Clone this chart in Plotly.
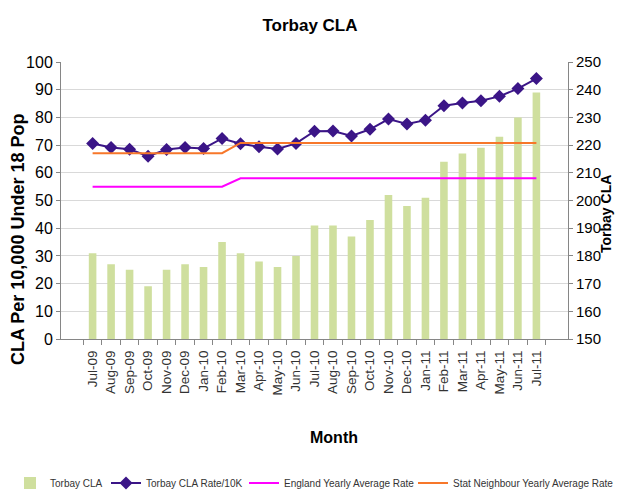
import plotly.graph_objects as go

months = ["Jul-09", "Aug-09", "Sep-09", "Oct-09", "Nov-09", "Dec-09", "Jan-10", "Feb-10",
          "Mar-10", "Apr-10", "May-10", "Jun-10", "Jul-10", "Aug-10", "Sep-10", "Oct-10",
          "Nov-10", "Dec-10", "Jan-11", "Feb-11", "Mar-11", "Apr-11", "May-11", "Jun-11", "Jul-11"]
torbay_cla = [181, 177, 175, 169, 175, 177, 176, 185, 181, 178, 176, 180, 191,
              191, 187, 193, 202, 198, 201, 214, 217, 219, 223, 230, 239]
torbay_rate = [70.6, 69.1, 68.5, 66.0, 68.4, 69.1, 68.8, 72.4, 70.5, 69.4, 68.6, 70.6, 75.0,
               75.1, 73.3, 75.7, 79.4, 77.6, 79.0, 84.2, 85.2, 86.0, 87.6, 90.4, 94.0]
england_rate = [55] * 8 + [58] * 17
stat_neighbour_rate = [67.1] * 8 + [70.8] * 17

FONT = "Liberation Sans, Arial, sans-serif"

fig = go.Figure()
fig.add_trace(go.Bar(x=months, y=torbay_cla, name="Torbay CLA", marker_color="#CFDF9E",
                     marker_line_width=0, yaxis="y", legend="legend"))
fig.add_trace(go.Scatter(x=months, y=torbay_rate, name="Torbay CLA Rate/10K", mode="lines+markers",
                         line=dict(color="#3B1587", width=2),
                         marker=dict(symbol="diamond", size=10, color="#3B1587"), yaxis="y2",
                         legend="legend2"))
fig.add_trace(go.Scatter(x=months, y=england_rate, name="England Yearly Average Rate", mode="lines",
                         line=dict(color="#FF00FF", width=2), yaxis="y2", legend="legend3"))
fig.add_trace(go.Scatter(x=months, y=stat_neighbour_rate, name="Stat Neighbour Yearly Average Rate",
                         mode="lines", line=dict(color="#F7772A", width=2), yaxis="y2",
                         legend="legend4"))

L, R, T, B = 61, 49, 62, 151
W, H = 617, 490
pw, ph = W - L - R, H - T - B

def px_x(x):
    return (x - L) / pw

def px_y(y):
    return (H - B - y) / ph

def legend_at(x_px):
    return dict(orientation="h", xref="paper", yref="paper", x=px_x(x_px), xanchor="left",
                y=px_y(483), yanchor="middle", font=dict(size=10, color="#333", family=FONT),
                itemwidth=30, bgcolor="rgba(0,0,0,0)")

fig.update_layout(
    width=W, height=H,
    paper_bgcolor="white", plot_bgcolor="white",
    margin=dict(l=L, r=R, t=T, b=B, autoexpand=False),
    font=dict(family=FONT, color="#000"),
    title=dict(text="<b>Torbay CLA</b>", x=310 / W, xanchor="center", y=1 - 25 / H, yanchor="middle",
               font=dict(size=17, family=FONT, color="#000")),
    bargap=0.59,
    showlegend=True,
    legend=legend_at(10),
    legend2=legend_at(106),
    legend3=legend_at(244),
    legend4=legend_at(413),
    xaxis=dict(type="category", tickangle=-90, tickfont=dict(size=13.5, color="#333", family=FONT),
               showline=True, linecolor="#868686", ticks="outside", tickson="boundaries",
               ticklen=5, tickcolor="#868686", showgrid=False, automargin=False,
               ticklabelstandoff=5),
    yaxis=dict(side="right", range=[150, 250], dtick=10, showline=True, linecolor="#868686",
               ticks="outside", ticklen=4, tickcolor="#868686",
               tickfont=dict(size=15, color="#000", family=FONT),
               showgrid=True, gridcolor="#D9D9D9", zeroline=False, automargin=False),
    yaxis2=dict(side="left", overlaying="y", range=[0, 100], dtick=10, showline=True, linecolor="#868686",
                ticks="outside", ticklen=4, tickcolor="#868686",
                tickfont=dict(size=16, color="#000", family=FONT),
                showgrid=False, zeroline=False, automargin=False),
    annotations=[
        dict(text="<b>CLA Per 10,000 Under 18 Pop</b>", xref="paper", yref="paper",
             x=px_x(18), y=px_y(240), textangle=-90, showarrow=False,
             xanchor="center", yanchor="middle", font=dict(size=18, family=FONT, color="#000")),
        dict(text="<b>Torbay CLA</b>", xref="paper", yref="paper",
             x=px_x(606), y=px_y(214), textangle=-90, showarrow=False,
             xanchor="center", yanchor="middle", font=dict(size=14, family=FONT, color="#000")),
        dict(text="<b>Month</b>", xref="paper", yref="paper",
             x=px_x(334), y=px_y(437), showarrow=False,
             xanchor="center", yanchor="middle", font=dict(size=16, family=FONT, color="#000")),
    ],
)

fig.write_html("out.html", config={"displayModeBar": False},
               post_script="document.body.style.margin='0';document.body.style.overflow='hidden';")
